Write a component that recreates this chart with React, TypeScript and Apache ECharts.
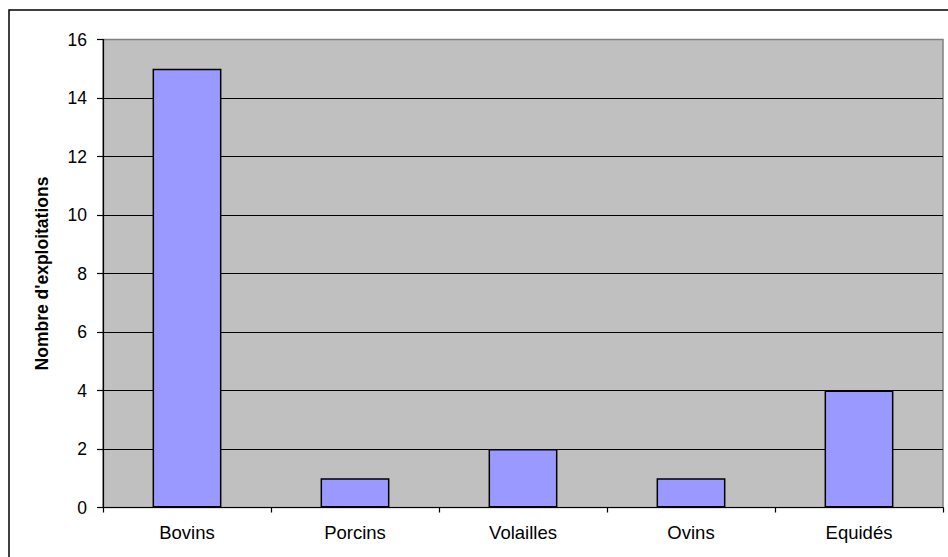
import React, { useEffect, useRef } from "react";
import * as echarts from "echarts";

// Livestock holdings by category
const categories: string[] = ["Bovins", "Porcins", "Volailles", "Ovins", "Equidés"];
const holdings: number[] = [15, 1, 2, 1, 4];
const yTicks: number[] = [0, 2, 4, 6, 8, 10, 12, 14, 16];
const yTitle = "Nombre d'exploitations";

const FONT = "'Liberation Sans', Arial, sans-serif";

export default function App() {
  const ref = useRef<HTMLDivElement>(null);

  useEffect(() => {
    if (!ref.current) return;
    const chart = echarts.init(ref.current, null, { renderer: "svg" });
    // black gridlines everywhere except the top one, which sits on the grey frame
    const splitColors = yTicks.map((_, i) => (i === yTicks.length - 1 ? "#808080" : "#000000"));
    chart.setOption({
      animation: false,
      backgroundColor: "#ffffff",
      textStyle: { fontFamily: FONT },
      graphic: [
        {
          type: "rect",
          shape: { x: 9, y: 10, width: 1000, height: 1000 },
          style: { fill: "none", stroke: "#000000", lineWidth: 1.5 },
          silent: true,
          z: -10,
        },
      ],
      grid: {
        left: 103,
        right: 5,
        top: 39.5,
        bottom: 49.5,
        show: true,
        backgroundColor: "#C0C0C0",
        borderColor: "#808080",
        borderWidth: 1.5,
      },
      xAxis: {
        type: "category",
        data: categories,
        axisLine: { show: true, lineStyle: { color: "#000000", width: 1.2 } },
        axisTick: { show: true, alignWithLabel: false, length: 5, lineStyle: { color: "#000000", width: 1.2 } },
        axisLabel: { color: "#000000", fontSize: 18.5, fontFamily: FONT, margin: 15 },
        splitLine: { show: false },
      },
      yAxis: {
        type: "value",
        min: 0,
        max: 16,
        interval: 2,
        name: yTitle,
        nameLocation: "middle",
        nameGap: 52,
        nameRotate: 90,
        nameTextStyle: { color: "#000000", fontSize: 17.5, fontWeight: "bold", fontFamily: FONT },
        axisLine: { show: true, lineStyle: { color: "#000000", width: 1.2 } },
        axisTick: { show: true, inside: false, length: 6, lineStyle: { color: "#000000", width: 1.2 } },
        axisLabel: { color: "#000000", fontSize: 17.5, fontFamily: FONT, margin: 16 },
        splitLine: { show: true, lineStyle: { color: splitColors, width: 1.2 } },
      },
      series: [
        {
          type: "bar",
          data: holdings,
          barWidth: "41%",
          itemStyle: { color: "#9999FF", borderColor: "#000000", borderWidth: 1.5 },
        },
      ],
    });
    return () => chart.dispose();
  }, []);

  return (
    <div
      ref={ref}
      style={{ position: "absolute", left: 0, top: 0, width: 948, height: 557 }}
    />
  );
}
